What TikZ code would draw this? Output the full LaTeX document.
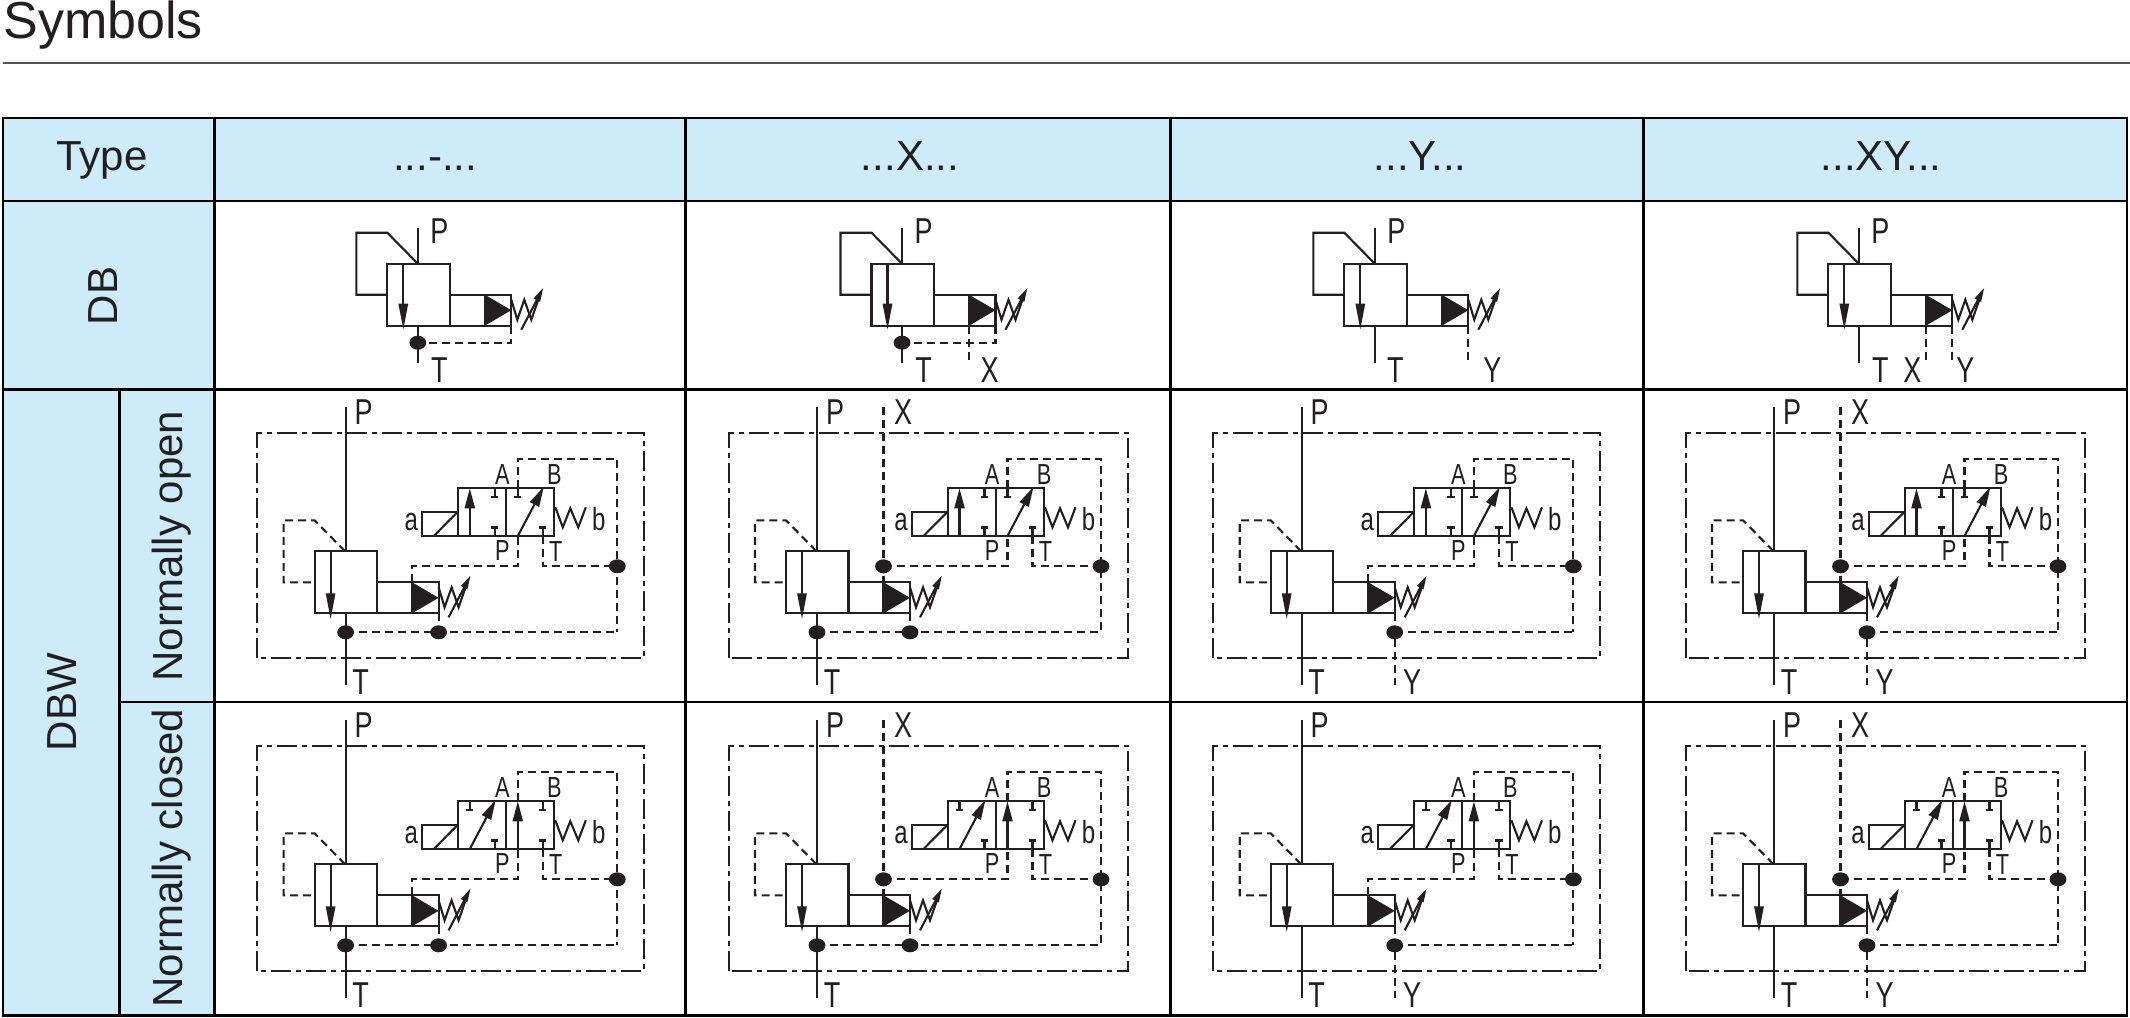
\documentclass[tikz,border=0pt]{standalone}
\usepackage{fontspec}
\setmainfont{Liberation Sans}
\newfontfamily\lblfont[FakeStretch=0.75]{Liberation Sans}
\usetikzlibrary{arrows.meta}
\definecolor{hdr}{RGB}{205,235,248}
\definecolor{ink}{RGB}{35,31,32}
\definecolor{rulegray}{RGB}{85,85,85}
\tikzset{
  sym/.style={line width=1.05pt, draw=ink},
  dsh/.style={sym, dash pattern=on 4pt off 2.5pt},
  chain/.style={sym, dash pattern=on 10pt off 2.5pt on 2.5pt off 2.5pt},
  bigL/.style={font=\lblfont\fontsize{18}{18}\selectfont, text=ink, inner sep=0pt},
  smL/.style={font=\lblfont\fontsize{14.5}{14.5}\selectfont, text=ink, inner sep=0pt},
  abL/.style={font=\lblfont\fontsize{16}{16}\selectfont, text=ink, inner sep=0pt},
  tbl/.style={line width=1.4pt, draw=black},
  htxt/.style={font=\fontsize{21}{21}\selectfont, text=ink, inner sep=0pt},
  mainarrow/.style={sym, -{Triangle[length=13pt,width=4.6pt]}},
  valvearrow/.style={sym, -{Triangle[length=10pt,width=5pt]}},
  adjarrow/.style={sym, -{Triangle[length=7pt,width=3.4pt]}},
}
\newcommand{\jdot}[1]{\fill[ink] #1 ellipse [x radius=4.2pt, y radius=3.5pt];}
\newcommand{\blkTop}[1]{\draw[sym] (#1,125) -- (#1,116.5) (#1-3.6,116.5) -- (#1+3.6,116.5);}
\newcommand{\blkBot}[1]{\draw[sym] (#1,77.3) -- (#1,85.8) (#1-3.6,85.8) -- (#1+3.6,85.8);}
\newcommand{\pilotspring}{%
  \draw[sym] (124,26) -- (130,6) -- (137,26) -- (144,6) -- (151,26);
  \draw[adjarrow] (134,-4) -- (156,38);}
% pilot operated relief valve core (origin = main box bottom-left, y up)
\newcommand{\corevalve}[1]{%
  \draw[sym] (0,0) rectangle (62.5,62);
  \draw[sym] (62.5,0) rectangle (97.5,31);
  \draw[sym] (97.5,0) rectangle (124,31);
  \fill[ink] (97.5,31) -- (97.5,0) -- (124,15.5) -- cycle;
  \draw[#1] (30.5,62) -- (0,93) -- (-31,93) -- (-31,31) -- (0,31);
  \pilotspring}
\newcommand{\DBsym}[2]{%
\begin{scope}[shift={(#1,325.7)},yscale=-1]
  \corevalve{sym}
  \draw[sym] (30.5,98) -- (30.5,62);
  \draw[mainarrow] (16,62) -- (16,-4);
  \draw[sym] (30.5,0) -- (30.5,-37);
  \node[bigL] at (52,95) {P};
  \ifcase#2
    \draw[dsh] (124,0) -- (124,-17) -- (30.5,-17); \jdot{(30.5,-17)}
    \node[bigL] at (52,-44) {T};
  \or
    \draw[dsh] (124,0) -- (124,-17) -- (30.5,-17); \jdot{(30.5,-17)}
    \draw[dsh] (97.5,0) -- (97.5,-37);
    \node[bigL] at (52,-44) {T}; \node[bigL] at (118,-44) {X};
  \or
    \draw[dsh] (124,0) -- (124,-37);
    \node[bigL] at (51,-44) {T}; \node[bigL] at (148,-44) {Y};
  \or
    \draw[dsh] (97.5,0) -- (97.5,-37);
    \draw[dsh] (124,0) -- (124,-37);
    \node[bigL] at (52,-44) {T}; \node[bigL] at (84,-44) {X}; \node[bigL] at (137,-44) {Y};
  \fi
\end{scope}}
% #1 x0, #2 y0, #3 vx, #4 rx, #5 hasX, #6 hasY, #7 normally closed
\newcommand{\DBWsym}[7]{%
\begin{scope}[shift={(#1,#2)},yscale=-1]
  \corevalve{dsh}
  \draw[mainarrow] (16,62) -- (16,-6);
  \draw[sym] (31,206.6) -- (31,62);
  \draw[sym] (31,0) -- (31,-71.7);
  \node[bigL] at (49,201) {P};
  \node[bigL] at (46,-69) {T};
  \draw[chain] (-57.3,-44.4) rectangle (#4+27,180.6);
  % directional valve
  \draw[sym] (#3-36,77.3) rectangle (#3,101);
  \draw[sym] (#3-24.5,77.3) -- (#3-1,101);
  \draw[sym] (#3,77.3) rectangle (#3+48,125);
  \draw[sym] (#3+48,77.3) rectangle (#3+96,125);
  \draw[sym] (#3+97,106) -- (#3+104.5,86) -- (#3+112,105) -- (#3+120,86) -- (#3+127.5,106);
  \ifnum#7=0
    \draw[valvearrow] (#3+11.5,77.3) -- (#3+11.5,125);
    \blkTop{#3+36.5} \blkBot{#3+36.5}
    \blkTop{#3+59.5}
    \draw[valvearrow] (#3+59.5,77.3) -- (#3+85.5,126.5);
    \blkBot{#3+84.5}
  \else
    \blkTop{#3+11.5}
    \draw[valvearrow] (#3+11.5,77.3) -- (#3+37.5,126.5);
    \blkBot{#3+36.5}
    \draw[valvearrow] (#3+59.5,77.3) -- (#3+59.5,125);
    \blkTop{#3+84.5} \blkBot{#3+84.5}
  \fi
  \node[smL] at (#3+44,138.5) {A};
  \node[smL] at (#3+96,139) {B};
  \node[smL] at (#3+44,63) {P};
  \node[smL] at (#3+97.5,62) {T};
  \node[abL] at (#3-47,90.8) {a};
  \node[abL] at (#3+140.5,94) {b};
  % pilot connections
  \draw[dsh] (#3+59.5,125) -- (#3+59.5,154.3) -- (#4,154.3) -- (#4,-19);
  \draw[dsh] (#3+84.5,77.3) -- (#3+84.5,47) -- (#4,47);
  \jdot{(#4,47)}
  \ifnum#5=1
    \draw[dsh] (97.5,206.6) -- (97.5,31);
    \draw[dsh] (97.5,47) -- (#3+59.5,47) -- (#3+59.5,77.3);
    \jdot{(97.5,47)}
    \node[bigL] at (117,201) {X};
  \else
    \draw[dsh] (97.5,31) -- (97.5,47) -- (#3+59.5,47) -- (#3+59.5,77.3);
  \fi
  \ifnum#6=1
    \draw[dsh] (124,0) -- (124,-71.7);
    \draw[dsh] (124,-19) -- (#4,-19);
    \jdot{(124,-19)}
    \node[bigL] at (141.5,-69) {Y};
  \else
    \draw[dsh] (124,0) -- (124,-19);
    \draw[dsh] (31,-19) -- (#4,-19);
    \jdot{(31,-19)} \jdot{(124,-19)}
  \fi
\end{scope}}
\begin{document}
\begin{tikzpicture}[x=0.5pt,y=-0.5pt]
\useasboundingbox (0,0) rectangle (2130,1017);
\fill[white] (0,0) rectangle (2130,1017);
% title
\node[anchor=base west, inner sep=0pt, text=ink, font=\fontsize{26}{26}\selectfont] (title) at (3,38) {Symbols};
\draw[line width=1.1pt, rulegray] (3,63) -- (2130,63);
% table fills
\fill[hdr] (3,118) rectangle (2127,201);
\fill[hdr] (3,201) rectangle (214.6,1015.7);
% table lines
\draw[tbl] (3,118) rectangle (2127,1015.7);
\foreach \yy in {201,389.7} \draw[tbl] (3,\yy) -- (2127,\yy);
\draw[tbl] (119.5,702) -- (2127,702);
\foreach \xx in {214.6,685.8,1170.6,1643.2} \draw[tbl] (\xx,118) -- (\xx,1015.7);
\draw[tbl] (119.5,389.7) -- (119.5,1015.7);
% header texts
\node[htxt, anchor=base] (hType) at (102,170) {Type};
\node[htxt, anchor=base] (hA) at (435,170) {...-...};
\node[htxt, anchor=base] (hB) at (910,170) {...X...};
\node[htxt, anchor=base] (hC) at (1420,170) {...Y...};
\node[htxt, anchor=base] (hD) at (1881,170) {...XY...};
% row labels
\node[htxt, anchor=base, rotate=90] (rDB) at (117,296) {DB};
\node[htxt, anchor=base, rotate=90] (rDBW) at (76,702) {DBW};
\node[htxt, anchor=base, rotate=90] (rNO) at (182,546) {Normally open};
\node[htxt, anchor=base, rotate=90] (rNC) at (182,858) {Normally closed};
% DB row
\DBsym{387.3}{0}
\DBsym{871.5}{1}
\DBsym{1344.3}{2}
\DBsym{1828.3}{3}
% DBW normally open
\DBWsym{314.6}{613.3}{143.7}{302.7}{0}{0}{0}
\DBWsym{786}{613.3}{162}{315}{1}{0}{0}
\DBWsym{1270.7}{613.3}{143.7}{302.7}{0}{1}{0}
\DBWsym{1743}{613.3}{162}{315}{1}{1}{0}
% DBW normally closed
\DBWsym{314.6}{926.3}{143.7}{302.7}{0}{0}{1}
\DBWsym{786}{926.3}{162}{315}{1}{0}{1}
\DBWsym{1270.7}{926.3}{143.7}{302.7}{0}{1}{1}
\DBWsym{1743}{926.3}{162}{315}{1}{1}{1}
\end{tikzpicture}
\end{document}
